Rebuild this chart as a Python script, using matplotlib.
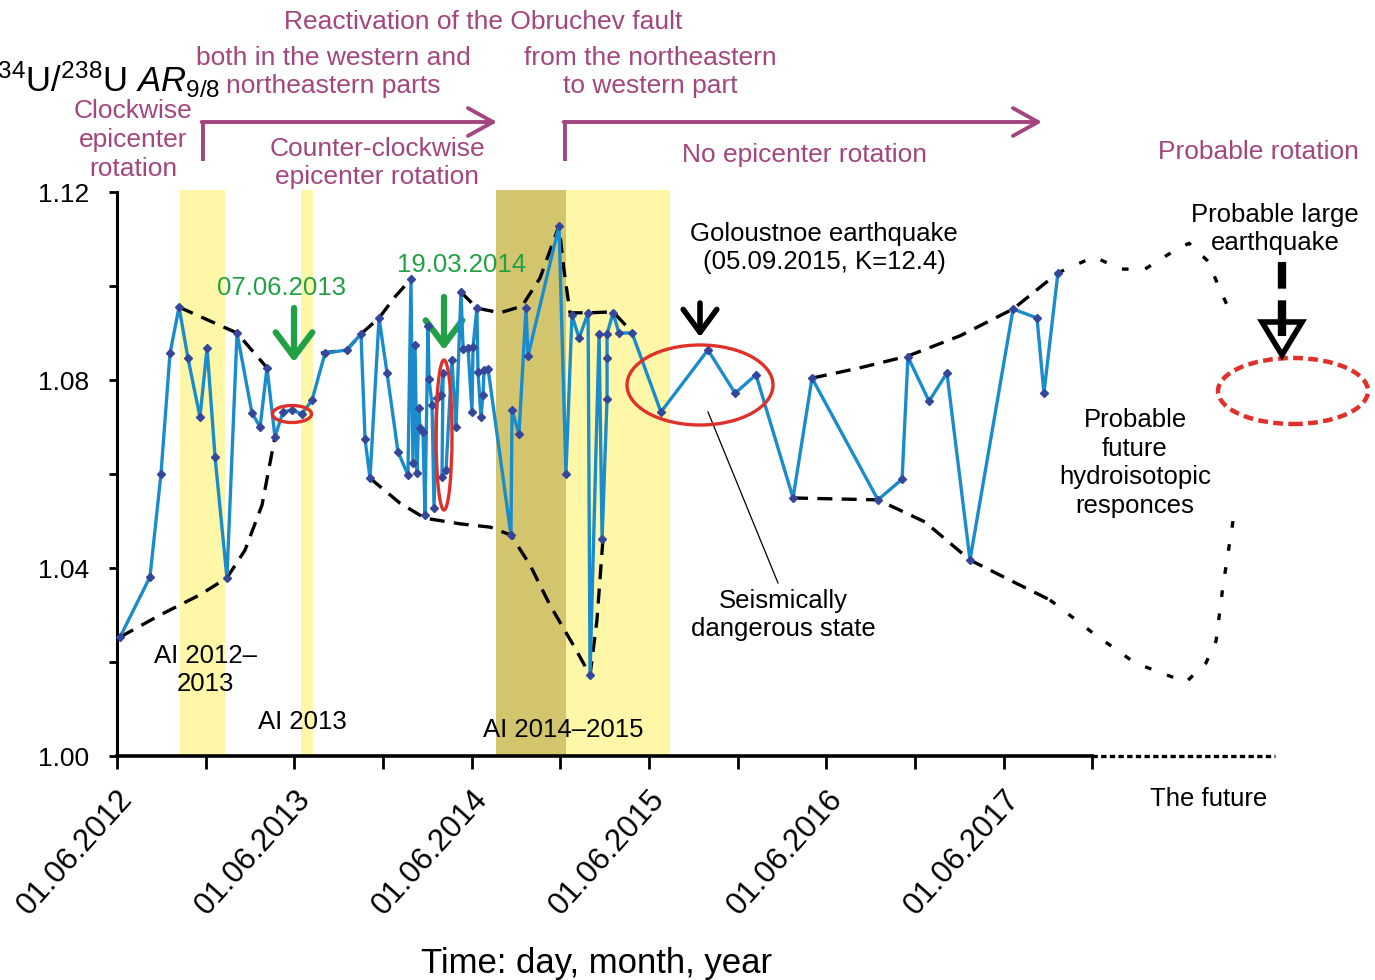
import matplotlib
matplotlib.use('Agg')
import matplotlib.pyplot as plt
from matplotlib.patches import Ellipse, Polygon

plt.rcParams['font.family'] = ['Liberation Sans', 'DejaVu Sans']
plt.rcParams['mathtext.fontset'] = 'custom'
plt.rcParams['mathtext.rm'] = 'Liberation Sans'
plt.rcParams['mathtext.it'] = 'Liberation Sans:italic'

# ---------------- data (x: years since 01.06.2012, y: 234U/238U activity ratio) -------------
t_years = [0.017, 0.186, 0.248, 0.299, 0.350, 0.400, 0.468, 0.508, 0.553, 0.620, 0.677, 0.761,
           0.807, 0.846, 0.891, 0.936, 0.987, 1.043, 1.100, 1.173, 1.297, 1.376, 1.399, 1.427,
           1.478, 1.523, 1.585, 1.641, 1.658, 1.669, 1.681, 1.692, 1.703, 1.709, 1.726, 1.737,
           1.754, 1.760, 1.777, 1.788, 1.805, 1.827, 1.839, 1.833, 1.856, 1.889, 1.912, 1.940,
           1.952, 1.980, 2.002, 2.008, 2.030, 2.036, 2.053, 2.064, 2.070, 2.093, 2.222, 2.228,
           2.267, 2.307, 2.318, 2.493, 2.532, 2.566, 2.606, 2.657, 2.668, 2.719, 2.736, 2.764,
           2.764, 2.764, 2.798, 2.831, 2.905, 3.068, 3.333, 3.486, 3.604, 3.813, 3.920, 4.292,
           4.428, 4.461, 4.580, 4.681, 4.811, 5.054, 5.189, 5.228, 5.307]
ar_values = [1.0253, 1.0381, 1.0600, 1.0857, 1.0955, 1.0847, 1.0721, 1.0868, 1.0636, 1.0379,
             1.0900, 1.0730, 1.0700, 1.0826, 1.0679, 1.0732, 1.0736, 1.0728, 1.0757, 1.0857,
             1.0864, 1.0898, 1.0674, 1.0591, 1.0932, 1.0815, 1.0647, 1.0598, 1.1015, 1.0623,
             1.0874, 1.0602, 1.0740, 1.0698, 1.0689, 1.0513, 1.0915, 1.0802, 1.0747, 1.0528,
             1.0762, 1.0768, 1.0815, 1.0594, 1.0609, 1.0843, 1.0700, 1.0987, 1.0866, 1.0868,
             1.0732, 1.0870, 1.0953, 1.0817, 1.0721, 1.0768, 1.0821, 1.0823, 1.0470, 1.0736,
             1.0685, 1.0953, 1.0851, 1.1128, 1.0600, 1.0938, 1.0889, 1.0943, 1.0172, 1.0898,
             1.0462, 1.0760, 1.0847, 1.0898, 1.0943, 1.0900, 1.0900, 1.0732, 1.0864, 1.0772,
             1.0811, 1.0549, 1.0804, 1.0545, 1.0589, 1.0849, 1.0755, 1.0815, 1.0417, 1.0951,
             1.0932, 1.0772, 1.1028]

# envelopes (dashed)
env_upper1_t = [0.350, 0.677, 0.846]
env_upper1_y = [1.0955, 1.0900, 1.0826]
env_lower1_t = [0.017, 0.243, 0.468, 0.620, 0.722, 0.818, 0.891]
env_lower1_y = [1.0253, 1.0300, 1.0343, 1.0379, 1.0438, 1.0534, 1.0679]
env_upper2_t = [1.150, 1.297, 1.376, 1.478, 1.568, 1.658]
env_upper2_y = [1.0857, 1.0864, 1.0898, 1.0932, 1.0977, 1.1015]
env_upper3_t = [1.940, 2.030, 2.160, 2.284, 2.386, 2.493, 2.521, 2.555, 2.668, 2.798, 2.910]
env_upper3_y = [1.0987, 1.0953, 1.0943, 1.0957, 1.1017, 1.1128, 1.1034, 1.0943, 1.0943, 1.0945, 1.0900]
env_lower2_t = [1.427, 1.596, 1.737, 1.935, 2.104, 2.222, 2.330, 2.442, 2.583, 2.668, 2.707, 2.741]
env_lower2_y = [1.0591, 1.0538, 1.0506, 1.0494, 1.0487, 1.0470, 1.0406, 1.0321, 1.0230, 1.0172, 1.0289, 1.0462]
env_upper4_t = [3.920, 4.191, 4.461, 4.755, 5.054, 5.307]
env_upper4_y = [1.0804, 1.0826, 1.0851, 1.0894, 1.0951, 1.1028]
env_lower4_t = [3.813, 4.292, 4.557, 4.811, 5.037, 5.262]
env_lower4_y = [1.0549, 1.0545, 1.0498, 1.0417, 1.0374, 1.0332]
# probable future (dotted)
fut_upper_t = [5.307, 5.510, 5.663, 5.798, 5.933, 6.046, 6.153, 6.215, 6.266]
fut_upper_y = [1.1028, 1.1062, 1.1036, 1.1036, 1.1068, 1.1091, 1.1053, 1.0998, 1.0955]
fut_lower_t = [5.262, 5.510, 5.742, 6.029, 6.142, 6.199, 6.238, 6.306]
fut_lower_y = [1.0332, 1.0260, 1.0198, 1.0157, 1.0198, 1.0245, 1.0362, 1.0528]

# activation-interval bands (years since 01.06.2012)
bands_light = [(0.355, 0.609), (1.038, 1.105), (2.532, 3.119)]
band_dark = (2.138, 2.532)
band_top = 1.1204

x_ticks_major = [0, 1, 2, 3, 4, 5]
x_ticks_minor = [0.5, 1.5, 2.5, 3.5, 4.5, 5.5]
x_tick_labels = ['01.06.2012', '01.06.2013', '01.06.2014', '01.06.2015', '01.06.2016', '01.06.2017']
y_ticks_major = [1.00, 1.04, 1.08, 1.12]
y_ticks_minor = [1.02, 1.06, 1.10]
y_tick_labels = ['1.00', '1.04', '1.08', '1.12']
x_axis_end = 5.5
x_future_end = 6.531

# ---------------- layout helpers (pixel -> data, for annotations only) -------------
W, H = 1375, 980
X0PX, PXYR = 117, 177.3
Y0PX, PXU = 756, 4700.0
def dx(px): return (px - X0PX) / PXYR
def dy(py): return 1 + (Y0PX - py) / PXU

PURPLE = '#A3467F'
GREEN = '#22A045'
BLUE = '#1A8CCB'
MARK = '#34479A'
RED = '#E0302A'
LIGHT = '#FFF7A8'
DARK = '#D2C56E'

fig = plt.figure(figsize=(W / 100, H / 100), dpi=100)
ax = fig.add_axes([0, 0, 1, 1])
ax.set_xlim(dx(0), dx(W))
ax.set_ylim(dy(H), dy(0))
ax.patch.set_alpha(0)

for a, b in bands_light:
    ax.fill_between([a, b], 1.0, band_top, color=LIGHT, lw=0, zorder=0)
ax.fill_between(list(band_dark), 1.0, band_top, color=DARK, lw=0, zorder=0)

# spines / ticks
for s in ['top', 'right']:
    ax.spines[s].set_visible(False)
ax.spines['left'].set_position(('data', 0))
ax.spines['bottom'].set_position(('data', 1.0))
ax.spines['left'].set_bounds(1.0, 1.12)
ax.spines['bottom'].set_bounds(0, x_axis_end)
ax.spines['left'].set_linewidth(2.2)
ax.spines['bottom'].set_linewidth(2.6)
ax.set_yticks(y_ticks_major)
ax.set_yticklabels(y_tick_labels, fontsize=19)
ax.set_yticks(y_ticks_minor, minor=True)
ax.set_xticks(x_ticks_major)
ax.set_xticklabels(x_tick_labels, fontsize=22.5, rotation=48, ha='right', va='top',
                   rotation_mode='anchor')
ax.set_xticks(x_ticks_minor, minor=True)
ax.tick_params(axis='y', which='both', direction='out', length=6, width=2, pad=14)
ax.tick_params(axis='x', which='both', direction='out', length=9, width=2, pad=11)

ax.plot([x_axis_end, x_future_end], [1.0, 1.0], color='black', lw=2.4,
        linestyle=(0, (1.6, 1.0)), clip_on=False)

# envelopes
dash = (0, (4.5, 2.8))
for tt, yy in [(env_upper1_t, env_upper1_y), (env_lower1_t, env_lower1_y),
               (env_upper2_t, env_upper2_y), (env_upper3_t, env_upper3_y),
               (env_lower2_t, env_lower2_y), (env_upper4_t, env_upper4_y),
               (env_lower4_t, env_lower4_y)]:
    ax.plot(tt, yy, color='black', lw=2.4, linestyle=dash, zorder=3)
for tt, yy in [(fut_upper_t, fut_upper_y), (fut_lower_t, fut_lower_y)]:
    ax.plot(tt, yy, color='black', lw=2.4, linestyle=(0, (2.0, 5.0)), zorder=3)

# main series
ax.plot(t_years, ar_values, color=BLUE, lw=2.4, zorder=4)
ax.plot(t_years, ar_values, linestyle='none', marker='D', markersize=3.6, color=MARK, zorder=5)

# ellipses
for (cx, cy, w, h, ls) in [(292, 414, 39, 17, '-'), (444, 435, 16, 150, '-'),
                           (700, 385, 146, 80, '-'), (1293, 391, 150, 66, (0, (2.2, 1.2)))]:
    e = Ellipse((dx(cx), dy(cy)), w / PXYR, h / PXU, fill=False, edgecolor=RED,
                lw=2.4 if ls == '-' else 3.2, linestyle=ls, zorder=6)
    ax.add_patch(e)

# ---------------- annotations -------------
def txt(px, py, s, color='black', size=18.5, **kw):
    ax.text(dx(px), dy(py), s, color=color, fontsize=size, ha='center', va='center',
            linespacing=1.25, **kw)

txt(483, 22, 'Reactivation of the Obruchev fault', PURPLE, 19)
txt(333, 72, 'both in the western and\nnortheastern parts', PURPLE, 19)
txt(650, 72, 'from the northeastern\nto western part', PURPLE, 19)
txt(133, 140, 'Clockwise\nepicenter\nrotation', PURPLE, 19)
txt(377, 163, 'Counter-clockwise\nepicenter rotation', PURPLE, 19)
txt(804, 155, 'No epicenter rotation', PURPLE, 19)
txt(1258, 152, 'Probable rotation', PURPLE, 19)

for x0, x1 in [(203, 497), (565, 1042)]:
    ax.plot([dx(x0), dx(x0)], [dy(161), dy(122)], color=PURPLE, lw=2.8,
            solid_capstyle='butt', clip_on=False)
    ax.annotate('', xy=(dx(x1), dy(122)), xytext=(dx(x0) - 0.008, dy(122)),
                arrowprops=dict(arrowstyle='->,head_length=0.9,head_width=0.5',
                                color=PURPLE, lw=2.8, mutation_scale=20,
                                shrinkA=0, shrinkB=0))

txt(824, 248, 'Goloustnoe earthquake\n(05.09.2015, K=12.4)', 'black', 18.5)
ax.annotate('', xy=(dx(700), dy(337)), xytext=(dx(700), dy(303)),
            arrowprops=dict(arrowstyle='->,head_length=0.75,head_width=0.55',
                            color='black', lw=4, mutation_scale=22, shrinkA=0, shrinkB=0))

txt(281, 288, '07.06.2013', GREEN, 18.5)
txt(462, 265, '19.03.2014', GREEN, 18.5)
for gx, g0, g1 in [(294, 308, 362), (444, 297, 350)]:
    ax.annotate('', xy=(dx(gx), dy(g1)), xytext=(dx(gx), dy(g0)),
                arrowprops=dict(arrowstyle='->,head_length=0.8,head_width=0.6',
                                color=GREEN, lw=4.5, mutation_scale=22, shrinkA=0, shrinkB=0))

txt(783, 615, 'Seismically\ndangerous state', 'black', 18.5)
ax.plot([dx(708), dx(778)], [dy(412), dy(583)], color='black', lw=0.9)

txt(1275, 229, 'Probable large\nearthquake', 'black', 18.5)
ax.plot([dx(1282), dx(1282)], [dy(262), dy(332)], color='black', lw=6,
        linestyle=(0, (3.2, 1.4)), solid_capstyle='butt', zorder=6)
ax.add_patch(Polygon([(dx(1262), dy(322)), (dx(1302), dy(322)), (dx(1282), dy(355))],
                     closed=True, facecolor='white', edgecolor='black', lw=4, zorder=7,
                     joinstyle='miter'))
ax.plot([dx(1282), dx(1282)], [dy(318), dy(336)], color='black', lw=6,
        solid_capstyle='butt', zorder=8)

txt(1135, 463, 'Probable\nfuture\nhydroisotopic\nresponces', 'black', 18.5)

txt(205, 670, 'AI 2012\u2013\n2013', 'black', 18.5)
txt(302, 722, 'AI 2013', 'black', 18.5)
txt(563, 730, 'AI 2014\u20132015', 'black', 18.5)
txt(1209, 799, 'The future', 'black', 18.5)

fig.text(220 / W, 1 - 92 / H, r'$^{234}$U/$^{238}$U $\mathit{AR}_{9/8}$', fontsize=25,
         ha='right', va='baseline', color='black')
fig.text(597 / W, 1 - 963 / H, 'Time: day, month, year', fontsize=25, ha='center',
         va='center', color='black')

fig.savefig('out.png', dpi=100)
